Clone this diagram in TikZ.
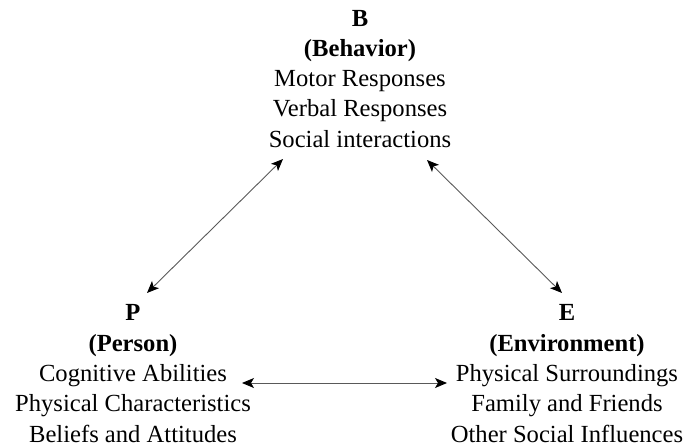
\documentclass[tikz,border=0pt]{standalone}
\usepackage{fontspec}
\setmainfont{Liberation Serif}
\usetikzlibrary{arrows.meta}
\tikzset{
  block/.style={
    inner sep=0pt, anchor=north, align=center,
    font=\fontsize{24.6}{30.3}\selectfont
  },
  link/.style={
    {Stealth[length=12pt, width=10pt, inset=3pt, color=black]}-{Stealth[length=12pt, width=10pt, inset=3pt, color=black]},
    line width=0.9pt, draw=black!65
  }
}

\begin{document}
\begin{tikzpicture}[x=1pt, y=-1pt]

\useasboundingbox (0,0) rectangle (687,446);

% Die drei Bloecke
\node[block] (behav) at (360, 9.7) {\textbf{B}\\\textbf{(Behavior)}\\Motor Responses\\Verbal Responses\\Social interactions};
\node[block] (person) at (133, 304.5) {\textbf{P}\\\textbf{(Person)}\\Cognitive Abilities\\Physical Characteristics\\Beliefs and Attitudes};
\node[block] (envir) at (567, 304.5) {\textbf{E}\\\textbf{(Environment)}\\Physical Surroundings\\Family and Friends\\Other Social Influences};

% Pfeilenden
\coordinate (bp_top) at (283, 159);
\coordinate (bp_bot) at (147, 293);
\coordinate (be_top) at (427, 160);
\coordinate (be_bot) at (562, 293);
\coordinate (pe_left) at (242, 383);
\coordinate (pe_right) at (447, 383);

% Wechselwirkungen
\draw[link] (bp_top) -- (bp_bot);
\draw[link] (be_top) -- (be_bot);
\draw[link] (pe_left) -- (pe_right);

\end{tikzpicture}
\end{document}
